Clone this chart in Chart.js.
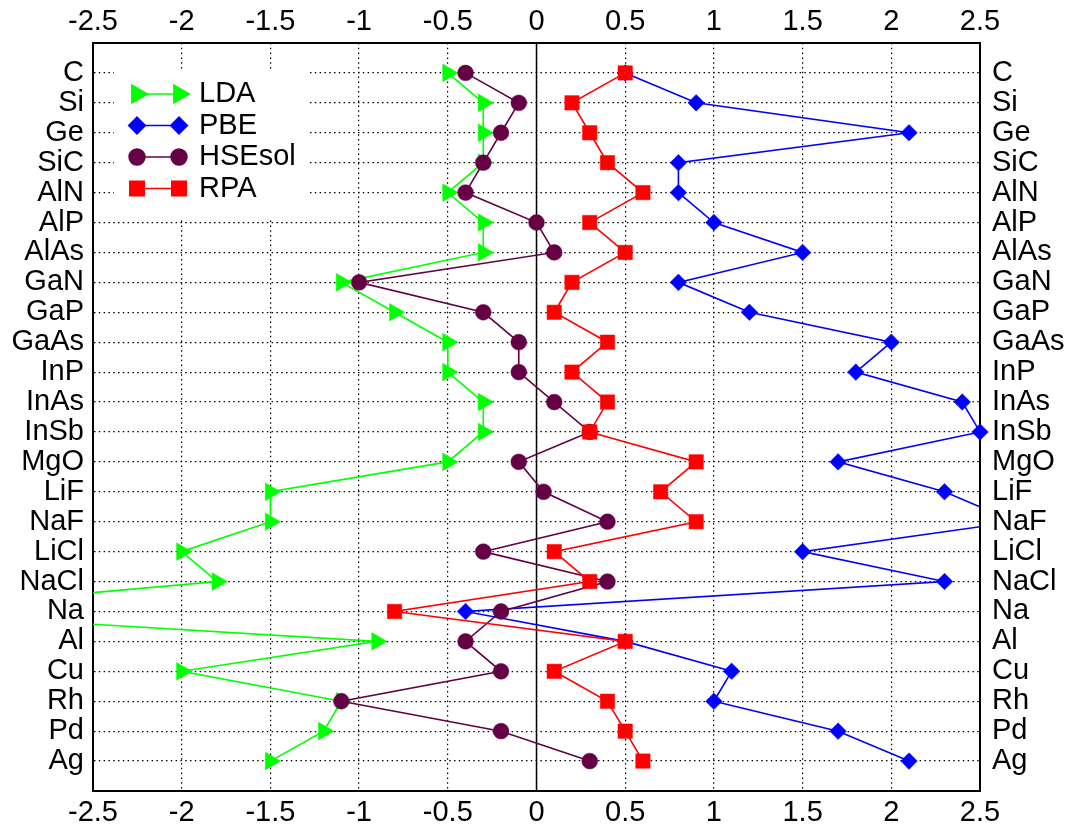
<!DOCTYPE html>
<html>
<head>
<meta charset="utf-8">
<script src="https://cdn.jsdelivr.net/npm/chart.js@4/dist/chart.umd.min.js"></script>
<style>
html,body{margin:0;padding:0;background:#fff;}
#wrap{width:1068px;height:830px;position:relative;}
</style>
</head>
<body>
<div id="wrap"><canvas id="c"></canvas></div>
<script>
// ---- data ----
const categories = ['C','Si','Ge','SiC','AlN','AlP','AlAs','GaN','GaP','GaAs','InP','InAs','InSb','MgO','LiF','NaF','LiCl','NaCl','Na','Al','Cu','Rh','Pd','Ag'];
const xTicks = [-2.5,-2,-1.5,-1,-0.5,0,0.5,1,1.5,2,2.5];
const seriesNames = ['LDA','PBE','HSEsol','RPA'];
const lda    = [-0.5,-0.3,-0.3,-0.3,-0.5,-0.3,-0.3,-1.1,-0.8,-0.5,-0.5,-0.3,-0.3,-0.5,-1.5,-1.5,-2.0,-1.8,-3.7,-0.9,-2.0,-1.1,-1.2,-1.5];
const pbe    = [0.5,0.9,2.1,0.8,0.8,1.0,1.5,0.8,1.2,2.0,1.8,2.4,2.5,1.7,2.3,2.7,1.5,2.3,-0.4,0.5,1.1,1.0,1.7,2.1];
const hsesol = [-0.4,-0.1,-0.2,-0.3,-0.4,0.0,0.1,-1.0,-0.3,-0.1,-0.1,0.1,0.3,-0.1,0.04,0.4,-0.3,0.4,-0.2,-0.4,-0.2,-1.1,-0.2,0.3];
const rpa    = [0.5,0.2,0.3,0.4,0.6,0.3,0.5,0.2,0.1,0.4,0.2,0.4,0.3,0.9,0.7,0.9,0.1,0.3,-0.8,0.5,0.1,0.4,0.5,0.6];

// ---- styles ----
const FONT = "'Liberation Sans', Arial, Helvetica, sans-serif";
const FS = 29;
const styles = {
  LDA:    {color:'#00ff00', pointStyle:'triangle', radius:10.2, rotation:90},
  PBE:    {color:'#0000ff', pointStyle:'rectRot',  radius:8.3,  rotation:0},
  HSEsol: {color:'#650045', pointStyle:'circle',   radius:7.9,  rotation:0},
  RPA:    {color:'#ff0000', pointStyle:'rect',     radius:10.2, rotation:0}
};
const seriesData = {LDA: lda, PBE: pbe, HSEsol: hsesol, RPA: rpa};

const datasets = [];
seriesNames.forEach((name, k) => {
  const st = styles[name];
  const vals = seriesData[name];
  const baseOrder = (seriesNames.length - k) * 2;
  const pts = vals.map((v, i) => ({x: v, y: i + 1}));
  datasets.push({
    label: name, data: pts, xAxisID: 'x', yAxisID: 'y',
    borderColor: st.color, backgroundColor: st.color, borderWidth: 1.6,
    pointRadius: 0, pointHitRadius: 0, showLine: true, fill: false, tension: 0,
    order: baseOrder
  });
  datasets.push({
    label: name + '_pts', data: pts, xAxisID: 'x', yAxisID: 'y',
    showLine: false, borderColor: st.color, borderWidth: 0,
    pointStyle: st.pointStyle, pointRadius: st.radius, pointRotation: st.rotation,
    pointBackgroundColor: st.color, pointBorderColor: st.color, pointBorderWidth: 0.5,
    clip: false, order: baseOrder - 1
  });
});

function drawMarker(ctx, st, x, y) {
  if (window.Chart && Chart.helpers && Chart.helpers.drawPoint) {
    ctx.fillStyle = st.color; ctx.strokeStyle = st.color;
    Chart.helpers.drawPoint(ctx, {pointStyle: st.pointStyle, radius: st.radius, rotation: st.rotation, borderWidth: 0.5}, x, y);
    return;
  }
  ctx.beginPath();
  ctx.arc(x, y, st.radius, 0, Math.PI * 2);
  ctx.fillStyle = st.color; ctx.fill();
}

const overlay = {
  id: 'overlay',
  beforeDatasetsDraw(chart) {
    const {ctx, chartArea: a, scales} = chart;
    ctx.save();
    // opaque key background (hides grid)
    ctx.fillStyle = '#fff';
    ctx.fillRect(a.left + 21, a.top + 27, 196, 149);
    // solid zero line
    const x0 = scales.x.getPixelForValue(0);
    ctx.strokeStyle = '#000';
    ctx.lineWidth = 1.5;
    ctx.beginPath();
    ctx.moveTo(x0, a.top);
    ctx.lineTo(x0, a.bottom);
    ctx.stroke();
    ctx.restore();
  },
  afterDatasetsDraw(chart) {
    const {ctx, chartArea: a} = chart;
    ctx.save();
    const x1 = a.left + 44, x2 = a.left + 86, tx = a.left + 106;
    seriesNames.forEach((name, k) => {
      const st = styles[name];
      const y = a.top + 51 + k * 31.5;
      ctx.strokeStyle = st.color;
      ctx.lineWidth = 1.6;
      ctx.beginPath(); ctx.moveTo(x1, y); ctx.lineTo(x2, y); ctx.stroke();
      drawMarker(ctx, st, x1, y);
      drawMarker(ctx, st, x2, y);
      ctx.fillStyle = '#000';
      ctx.font = FS + 'px ' + FONT;
      ctx.textAlign = 'left';
      ctx.textBaseline = 'middle';
      ctx.fillText(name, tx, y);
    });
    ctx.restore();
  }
};

const tickFont = {family: FONT, size: FS};
const catTicks = s => { s.ticks = categories.map((c, i) => ({value: i + 1})); };
const xTickBuild = s => { s.ticks = xTicks.map(v => ({value: v})); };

new Chart(document.getElementById('c'), {
  type: 'line',
  data: {datasets},
  options: {
    indexAxis: 'y',
    responsive: true,
    maintainAspectRatio: false,
    animation: false,
    events: [],
    layout: {padding: 0},
    plugins: {legend: {display: false}, tooltip: {enabled: false}},
    scales: {
      x: {
        type: 'linear', axis: 'x', position: 'bottom', min: -2.5, max: 2.5,
        afterBuildTicks: xTickBuild,
        afterFit: s => { s.height = 39; },
        ticks: {font: tickFont, color: '#000', padding: 5, autoSkip: false, maxRotation: 0, callback: v => String(v)},
        grid: {color: '#000', lineWidth: 1.2, drawTicks: false},
        border: {display: true, color: '#000', width: 2, dash: [1.5, 3.3]}
      },
      x2: {
        type: 'linear', axis: 'x', position: 'top', min: -2.5, max: 2.5,
        afterBuildTicks: xTickBuild,
        afterFit: s => { s.height = 43; },
        ticks: {font: tickFont, color: '#000', padding: 4, autoSkip: false, maxRotation: 0, callback: v => String(v)},
        grid: {drawOnChartArea: false, drawTicks: false},
        border: {display: true, color: '#000', width: 2}
      },
      y: {
        type: 'linear', axis: 'y', position: 'left', min: 0, max: categories.length + 1, reverse: true,
        afterBuildTicks: catTicks,
        afterFit: s => { s.width = 93; },
        ticks: {font: tickFont, color: '#000', padding: 9, autoSkip: false, callback: v => categories[v - 1]},
        grid: {color: '#000', lineWidth: 1.2, drawTicks: false},
        border: {display: true, color: '#000', width: 2, dash: [1.5, 3.3]}
      },
      y2: {
        type: 'linear', axis: 'y', position: 'right', min: 0, max: categories.length + 1, reverse: true,
        afterBuildTicks: catTicks,
        afterFit: s => { s.width = 88; },
        ticks: {font: tickFont, color: '#000', padding: 12, autoSkip: false, callback: v => categories[v - 1]},
        grid: {drawOnChartArea: false, drawTicks: false},
        border: {display: true, color: '#000', width: 2}
      }
    }
  },
  plugins: [overlay]
});
</script>
</body>
</html>
